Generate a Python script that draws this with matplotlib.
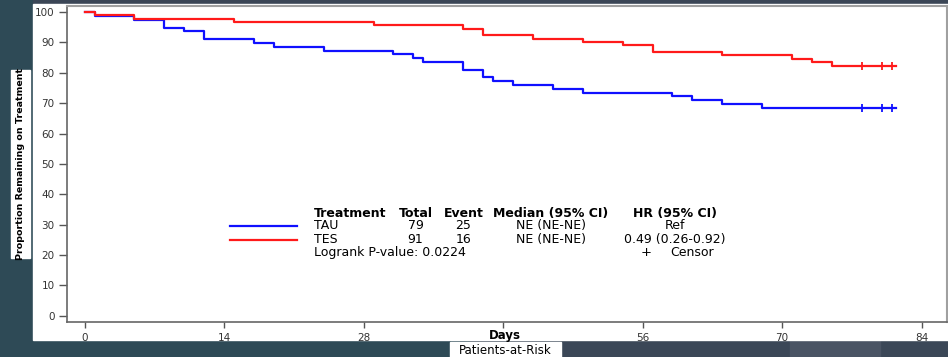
import matplotlib.pyplot as plt
from matplotlib.patches import Rectangle
from matplotlib.lines import Line2D
from matplotlib import font_manager

# Kaplan-Meier steps (day of drop, proportion after drop)
tau_days = [0, 1, 5, 8, 10, 12, 17, 19, 24, 31, 33, 34, 38, 40, 41, 43, 47, 50, 59, 61, 64, 68]
tau_surv = [100, 98.7, 97.5, 94.9, 93.7, 91.1, 89.9, 88.6, 87.3, 86.1, 84.8, 83.5,
            81.0, 78.5, 77.2, 75.9, 74.7, 73.4, 72.2, 70.9, 69.6, 68.4]
tes_days = [0, 1, 5, 15, 29, 38, 40, 45, 50, 54, 57, 64, 71, 73, 75]
tes_surv = [100, 98.9, 97.8, 96.7, 95.6, 94.5, 92.3, 91.2, 90.1, 89.0, 86.8, 85.7,
            84.6, 83.5, 82.4]
last_day = 81.4
censor_days = [78, 80, 81]

x_ticks = [0, 14, 28, 42, 56, 70, 84]
x_tick_labels = ['0', '14', '28', '', '56', '70', '84']
y_ticks = list(range(0, 101, 10))

header = ['Treatment', 'Total', 'Event', 'Median (95% CI)', 'HR (95% CI)']
rows = [['TAU', '79', '25', 'NE (NE-NE)', 'Ref'],
        ['TES', '91', '16', 'NE (NE-NE)', '0.49 (0.26-0.92)']]
logrank_text = 'Logrank P-value: 0.0224'

blue = '#1010ff'
red = '#ff1a1a'

fig = plt.figure(figsize=(9.48, 3.57), dpi=100, facecolor='#2e4a56')

# slide background pieces
fig.patches.append(Rectangle((470/948, 0), 478/948, 17/357, transform=fig.transFigure,
                             color='#3b4757', zorder=0))
fig.patches.append(Rectangle((790/948, 0), 90/948, 17/357, transform=fig.transFigure,
                             color='#4a5464', zorder=0))
fig.patches.append(Rectangle((33/948, 353/357), 915/948, 4/357, transform=fig.transFigure,
                             color='#3b4656', zorder=0))
# white chart area
fig.patches.append(Rectangle((33/948, 17/357), 915/948, 336/357, transform=fig.transFigure,
                             color='white', zorder=1))

ax = fig.add_axes([67/948, 35/357, 879.5/948, 316/357])
ax.set_zorder(2)

ax.step(tau_days + [last_day], tau_surv + [tau_surv[-1]], where='post', color=blue, lw=1.6)
ax.step(tes_days + [last_day], tes_surv + [tes_surv[-1]], where='post', color=red, lw=1.6)
ax.plot(censor_days, [tau_surv[-1]] * len(censor_days), ls='none', marker='|',
        ms=6, mew=1.3, color=blue)
ax.plot(censor_days, [tes_surv[-1]] * len(censor_days), ls='none', marker='|',
        ms=6, mew=1.3, color=red)

ax.set_xlim(-1.76, 86.5)
ax.set_ylim(-2.07, 102.0)
ax.set_xticks(x_ticks)
ax.set_xticklabels(x_tick_labels)
ax.set_yticks(y_ticks)
ax.tick_params(axis='both', labelsize=7.5, colors='#555555', labelcolor='#333333',
               length=4, width=1)
ax.tick_params(axis='x', pad=4)
ax.tick_params(axis='y', pad=3, length=6)
for side in ['left', 'bottom']:
    ax.spines[side].set_color('#666666')
    ax.spines[side].set_linewidth(1.2)
for side in ['top', 'right']:
    ax.spines[side].set_color('#a0a0a0')
    ax.spines[side].set_linewidth(1.5)

# legend / summary table
ax.add_line(Line2D([0.1853, 0.2615], [0.3028, 0.3028], transform=ax.transAxes, color=blue, lw=1.6))
ax.add_line(Line2D([0.1853, 0.2615], [0.2595, 0.2595], transform=ax.transAxes, color=red, lw=1.6))

col_x = [0.2808, 0.3962, 0.4507, 0.5500, 0.6910]
col_ha = ['left', 'center', 'center', 'center', 'center']
row_y = [0.344, 0.3047, 0.2617]
for j, txt in enumerate(header):
    ax.text(col_x[j], row_y[0], txt, transform=ax.transAxes, ha=col_ha[j], va='center',
            fontsize=9, fontweight='bold', color='black')
for i, row in enumerate(rows):
    for j, txt in enumerate(row):
        ax.text(col_x[j], row_y[i + 1], txt, transform=ax.transAxes, ha=col_ha[j],
                va='center', fontsize=9, color='black')
ax.text(0.2808, 0.2193, logrank_text, transform=ax.transAxes, ha='left', va='center',
        fontsize=9, color='black')
ax.text(0.659, 0.2193, '+', transform=ax.transAxes, ha='center', va='center',
        fontsize=9.5, color='black')
ax.text(0.6855, 0.2193, 'Censor', transform=ax.transAxes, ha='left', va='center',
        fontsize=9, color='black')

# axis titles
fig.text(505/948, 21/357, 'Days', ha='center', va='center', fontsize=8.5,
         fontweight='bold', color='black', zorder=3)
fig.patches.append(Rectangle((450/948, 0), 111/948, 15/357, transform=fig.transFigure,
                             color='white', zorder=2))
fig.text(505.5/948, 7/357, 'Patients-at-Risk', ha='center', va='center', fontsize=8.5,
         color='black', zorder=3)

fig.patches.append(Rectangle((11/948, 99/357), 19/948, 188/357, transform=fig.transFigure,
                             color='white', zorder=2))
try:
    font_manager.findfont('Liberation Sans Narrow', fallback_to_default=False)
    ylab_family, ylab_size = 'Liberation Sans Narrow', 9.5
except Exception:
    ylab_family, ylab_size = 'DejaVu Sans', 6.8
fig.text(21/948, 193/357, 'Proportion Remaining on Treatment', rotation=90,
         ha='center', va='center', fontsize=ylab_size, family=ylab_family,
         fontweight='bold', color='black', zorder=3)

fig.savefig('out.png', dpi=100, facecolor=fig.get_facecolor())
